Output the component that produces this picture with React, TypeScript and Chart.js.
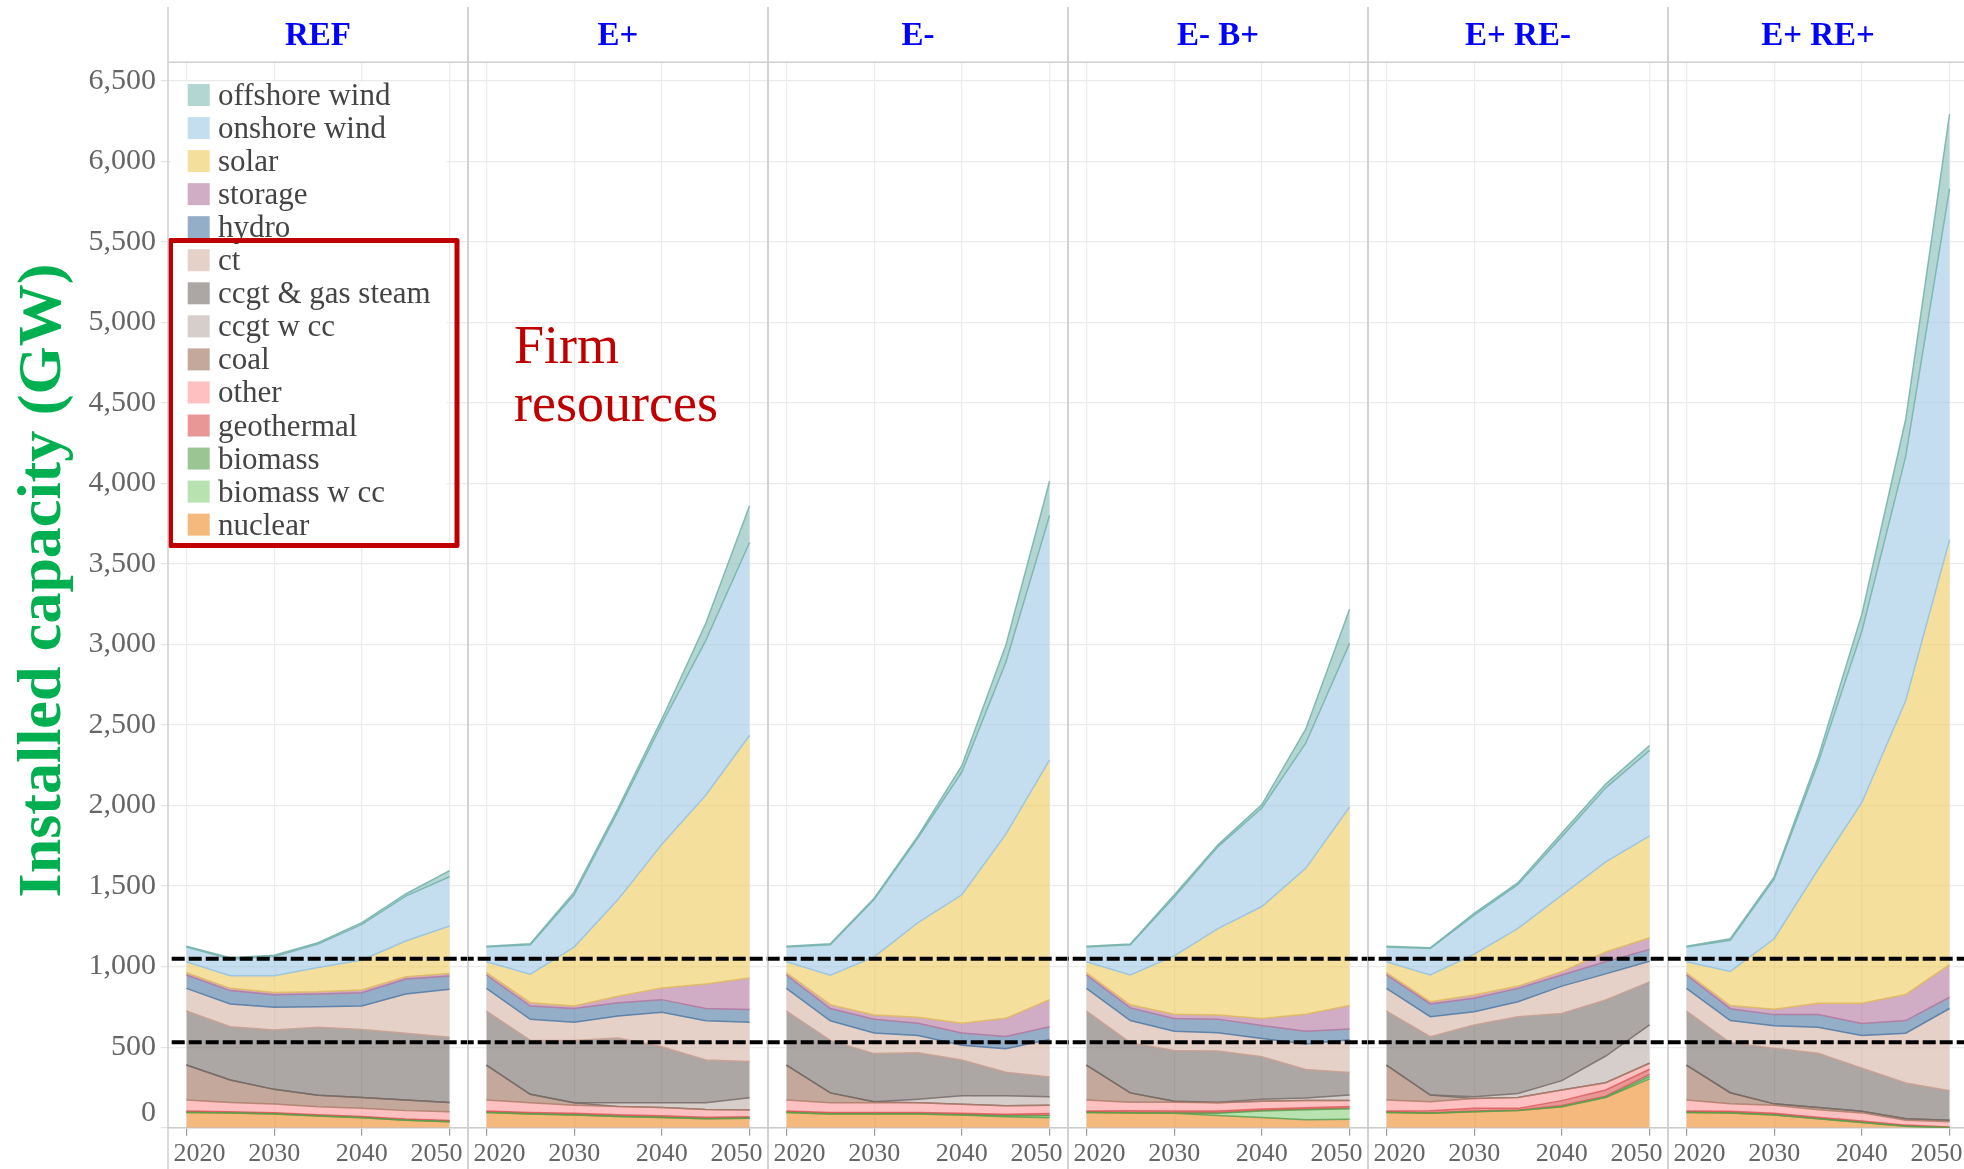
import React, { useEffect, useRef } from 'react';
import { Chart, registerables } from 'chart.js';

Chart.register(...registerables);

// ---------- data ----------
const YEARS = [2020, 2025, 2030, 2035, 2040, 2045, 2050];
const X_TICKS = [2020, 2030, 2040, 2050];
const Y_TICKS = [0, 500, 1000, 1500, 2000, 2500, 3000, 3500, 4000, 4500, 5000, 5500, 6000, 6500];
const FIRM_LINES_GW = [531, 1049];
const PANEL_TITLES = ['REF', 'E+', 'E-', 'E- B+', 'E+ RE-', 'E+ RE+'];
const NOTE_LINES = ['Firm', 'resources'];

// stacking order, bottom -> top
const SERIES = [
  'nuclear', 'biomass w cc', 'biomass', 'geothermal', 'other', 'coal', 'ccgt w cc',
  'ccgt & gas steam', 'ct', 'hydro', 'storage', 'solar', 'onshore wind', 'offshore wind',
];

// rows follow SERIES, columns follow YEARS (GW)
const REF_GW = [
  [95, 91, 85, 72, 62, 46, 37],
  [0, 0, 0, 0, 0, 0, 0],
  [4, 4, 4, 4, 4, 4, 4],
  [4, 4, 4, 4, 4, 4, 4],
  [69, 58, 54, 50, 50, 52, 54],
  [217, 139, 91, 71, 68, 66, 58],
  [0, 0, 0, 0, 0, 0, 0],
  [335, 331, 368, 422, 422, 414, 404],
  [141, 141, 141, 128, 145, 244, 298],
  [83, 83, 79, 79, 83, 93, 83],
  [14, 14, 14, 14, 17, 14, 16],
  [68, 79, 104, 151, 186, 222, 294],
  [92, 103, 118, 145, 221, 279, 306],
  [4, 8, 8, 8, 11, 13, 38],
];
const E_PLUS_GW = [
  [95, 85, 79, 70, 64, 55, 58],
  [0, 0, 0, 0, 0, 0, 0],
  [4, 4, 4, 4, 4, 4, 4],
  [4, 6, 6, 6, 6, 6, 6],
  [69, 60, 51, 51, 51, 48, 42],
  [217, 52, 15, 0, 0, 0, 0],
  [0, 0, 0, 24, 30, 42, 76],
  [335, 335, 387, 402, 347, 265, 225],
  [141, 131, 113, 137, 214, 244, 244],
  [83, 82, 85, 82, 79, 76, 79],
  [14, 21, 15, 40, 73, 152, 195],
  [68, 177, 366, 600, 892, 1172, 1507],
  [92, 183, 325, 548, 746, 960, 1197],
  [4, 6, 16, 18, 30, 106, 228],
];
const E_MINUS_GW = [
  [95, 85, 85, 85, 79, 68, 62],
  [0, 0, 0, 0, 0, 6, 12],
  [4, 4, 4, 4, 4, 4, 4],
  [4, 6, 6, 6, 6, 6, 10],
  [69, 60, 60, 60, 57, 53, 52],
  [217, 61, 6, 0, 0, 0, 0],
  [0, 0, 0, 22, 52, 61, 52],
  [335, 326, 299, 289, 222, 146, 122],
  [141, 122, 128, 106, 92, 146, 234],
  [83, 76, 85, 77, 76, 76, 79],
  [14, 24, 27, 36, 61, 113, 168],
  [68, 183, 360, 588, 797, 1142, 1489],
  [92, 189, 356, 527, 762, 1066, 1516],
  [4, 6, 9, 12, 39, 106, 213],
];
const E_MINUS_B_PLUS_GW = [
  [95, 92, 90, 76, 63, 50, 53],
  [0, 0, 0, 14, 41, 62, 64],
  [4, 4, 4, 4, 4, 4, 4],
  [4, 10, 10, 10, 8, 8, 11],
  [69, 52, 54, 51, 48, 45, 37],
  [217, 58, 6, 0, 0, 0, 0],
  [0, 0, 0, 3, 13, 16, 34],
  [335, 312, 316, 318, 264, 177, 140],
  [141, 137, 119, 113, 113, 158, 203],
  [83, 79, 79, 85, 80, 79, 66],
  [14, 19, 27, 26, 44, 106, 146],
  [68, 185, 362, 536, 695, 905, 1233],
  [92, 188, 364, 509, 612, 777, 1016],
  [4, 4, 13, 11, 21, 87, 211],
];
const E_PLUS_RE_MINUS_GW = [
  [95, 89, 99, 106, 130, 188, 303],
  [0, 0, 0, 0, 0, 3, 14],
  [4, 4, 4, 4, 8, 5, 14],
  [4, 13, 17, 10, 30, 38, 32],
  [69, 55, 62, 68, 66, 45, 37],
  [217, 42, 0, 0, 0, 0, 0],
  [0, 0, 10, 25, 58, 166, 238],
  [335, 362, 445, 476, 417, 348, 267],
  [141, 124, 83, 93, 170, 162, 128],
  [83, 79, 83, 83, 69, 75, 74],
  [14, 14, 21, 14, 21, 61, 72],
  [68, 166, 254, 358, 475, 559, 633],
  [92, 165, 242, 273, 363, 460, 530],
  [4, 4, 11, 11, 23, 23, 31],
];
const E_PLUS_RE_PLUS_GW = [
  [95, 92, 79, 55, 32, 9, 0],
  [0, 0, 0, 0, 0, 0, 0],
  [4, 4, 4, 4, 4, 3, 2],
  [4, 6, 6, 6, 6, 4, 3],
  [69, 46, 50, 46, 50, 30, 32],
  [217, 69, 9, 14, 10, 9, 9],
  [0, 0, 0, 0, 0, 0, 0],
  [335, 310, 346, 337, 268, 222, 184],
  [141, 138, 139, 162, 203, 310, 510],
  [83, 74, 69, 78, 74, 78, 70],
  [14, 19, 33, 70, 125, 162, 202],
  [68, 212, 438, 831, 1247, 1825, 2638],
  [92, 194, 370, 661, 1063, 1515, 2180],
  [4, 9, 14, 32, 106, 231, 462],
];
const PANEL_DATA = [REF_GW, E_PLUS_GW, E_MINUS_GW, E_MINUS_B_PLUS_GW, E_PLUS_RE_MINUS_GW, E_PLUS_RE_PLUS_GW];

// ---------- styles ----------
const FILL_COLORS = [
  'rgba(238,138,38,0.6)', 'rgba(137,207,123,0.6)', 'rgba(88,160,77,0.6)', 'rgba(218,80,80,0.6)',
  'rgba(253,150,150,0.6)', 'rgba(155,110,88,0.6)', 'rgba(185,173,168,0.6)', 'rgba(117,107,103,0.6)',
  'rgba(213,178,163,0.6)', 'rgba(77,120,163,0.6)', 'rgba(178,117,158,0.6)', 'rgba(238,202,90,0.6)',
  'rgba(158,200,228,0.6)', 'rgba(128,187,180,0.6)',
];
const EDGE_COLORS = [
  'rgba(88,160,77,0.85)', 'rgba(88,160,77,0.85)', 'rgba(218,80,80,0.75)', 'rgba(218,80,80,0.75)',
  'rgba(170,120,100,0.8)', 'rgba(117,107,103,0.85)', 'rgba(117,107,103,0.85)', 'rgba(200,160,145,0.9)',
  'rgba(77,120,163,0.85)', 'rgba(178,117,158,0.85)', 'rgba(225,185,95,0.9)', 'rgba(150,195,225,0.9)',
  'rgba(120,180,172,0.9)', 'rgba(120,180,172,0.9)',
];

const SERIF = '"Liberation Serif", "Times New Roman", serif';
const W = 1964;
const H = 1169;
const PANEL_LEFT0 = 168;
const PANEL_W = 300;
const MARGIN = 40;
const AREA_TOP = 62.3;
const AXIS_H = 41.3;
const Y_AXIS_W = 168;
const X_MIN = 2017.9;
const X_MAX = 2052.1;
const Y_MAX = 6614;
const DASH_START = 171.7;
const NOTE_X = 514;
const NOTE_BASELINES = [363, 421];

function makeDecor(index: number, absLeft: number) {
  const first = index === 0;
  return {
    id: 'decor' + index,
    afterDraw(chart: any) {
      const { ctx, chartArea: a, scales } = chart;
      ctx.save();
      if (first) {
        // legend (inside REF panel)
        ctx.fillStyle = '#ffffff';
        ctx.fillRect(171, 82, 446.7 - 171, 548 - 82);
        const items = chart.data.datasets.slice().reverse();
        ctx.font = `31px ${SERIF}`;
        ctx.textAlign = 'left';
        ctx.textBaseline = 'alphabetic';
        items.forEach((d: any, r: number) => {
          const cy = 95 + r * 33.05;
          ctx.fillStyle = d.backgroundColor;
          ctx.fillRect(187.7, cy - 11, 22, 22);
          ctx.fillStyle = '#444444';
          ctx.fillText(d.label, 218, cy + 10);
        });
        ctx.strokeStyle = '#c00000';
        ctx.lineWidth = 5;
        ctx.lineJoin = 'round';
        ctx.strokeRect(170.5, 240.5, 286.5, 305);
        ctx.save();
        ctx.translate(59.5, 580.6);
        ctx.rotate(-Math.PI / 2);
        ctx.font = `bold 62px ${SERIF}`;
        ctx.fillStyle = '#00b050';
        ctx.textAlign = 'center';
        ctx.fillText('Installed capacity (GW)', 0, 0);
        ctx.restore();
      }
      if (index === 1) {
        ctx.fillStyle = '#c00000';
        ctx.font = `54px ${SERIF}`;
        ctx.textAlign = 'left';
        ctx.textBaseline = 'alphabetic';
        NOTE_LINES.forEach((t, k) => ctx.fillText(t, NOTE_X - absLeft, NOTE_BASELINES[k]));
      }
      // panel frame
      ctx.strokeStyle = '#cfcfcf';
      ctx.lineWidth = 1.5;
      ctx.setLineDash([]);
      [a.left, a.right].forEach((x: number) => {
        ctx.beginPath();
        ctx.moveTo(x, 7);
        ctx.lineTo(x, chart.height);
        ctx.stroke();
      });
      ctx.beginPath();
      ctx.moveTo(a.left, a.top);
      ctx.lineTo(a.right, a.top);
      ctx.stroke();
      // strip title
      ctx.fillStyle = '#0000ff';
      ctx.font = `bold 33px ${SERIF}`;
      ctx.textAlign = 'center';
      ctx.textBaseline = 'alphabetic';
      ctx.fillText(PANEL_TITLES[index], (a.left + a.right) / 2, 44.5);
      // firm-capacity dashed lines
      const x0 = first ? DASH_START : a.left;
      ctx.strokeStyle = '#000000';
      ctx.lineWidth = 4;
      ctx.setLineDash([13, 4]);
      ctx.lineDashOffset = ((absLeft + x0 - DASH_START) % 17 + 17) % 17;
      FIRM_LINES_GW.forEach((v) => {
        const y = scales.y.getPixelForValue(v);
        ctx.beginPath();
        ctx.moveTo(x0, y);
        ctx.lineTo(a.right, y);
        ctx.stroke();
      });
      ctx.restore();
    },
  };
}

function buildConfig(index: number, absLeft: number): any {
  const first = index === 0;
  const table = PANEL_DATA[index];
  const datasets = SERIES.map((name, i) => ({
    label: name,
    data: YEARS.map((yr, j) => ({ x: yr, y: table[i][j] })),
    fill: i === 0 ? 'origin' : '-1',
    backgroundColor: FILL_COLORS[i],
    borderColor: EDGE_COLORS[i],
    borderWidth: 1.5,
    pointRadius: 0,
    pointHoverRadius: 0,
    tension: 0,
  }));
  const lastX = X_TICKS[X_TICKS.length - 1];
  return {
    type: 'line',
    data: { datasets },
    options: {
      animation: false,
      responsive: false,
      events: [],
      layout: { padding: { top: AREA_TOP, bottom: 0, left: first ? 0 : MARGIN, right: MARGIN } },
      plugins: { legend: { display: false }, tooltip: { enabled: false }, title: { display: false } },
      scales: {
        x: {
          type: 'linear',
          min: X_MIN,
          max: X_MAX,
          afterBuildTicks: (s: any) => { s.ticks = X_TICKS.map((v) => ({ value: v })); },
          afterFit: (s: any) => { s.height = AXIS_H; },
          ticks: {
            autoSkip: false,
            maxRotation: 0,
            padding: 3,
            color: '#666666',
            font: { family: SERIF, size: 26 },
            callback: (v: number) => (v === X_TICKS[0] ? '    ' + v : v === lastX ? v + '    ' : String(v)),
          },
          grid: { color: '#ebebeb', lineWidth: 1.2, drawTicks: true, tickLength: 8, tickColor: '#9a9a9a', tickWidth: 1.2 },
          border: { display: true, color: '#cccccc', width: 1.5 },
        },
        y: {
          stacked: true,
          min: 0,
          max: Y_MAX,
          afterBuildTicks: (s: any) => { s.ticks = Y_TICKS.map((v) => ({ value: v })); },
          afterFit: (s: any) => { s.width = first ? Y_AXIS_W : 0; },
          ticks: {
            display: first,
            padding: 5,
            color: '#666666',
            font: { family: SERIF, size: 30, lineHeight: 0.95 },
            callback: (v: number) => (v === 0 ? ['0', ''] : Number(v).toLocaleString('en-US')),
          },
          grid: { color: '#ebebeb', lineWidth: 1.2, drawTicks: first, tickLength: 7, tickColor: '#e4e4e4' },
          border: { display: false },
        },
      },
    },
    plugins: [makeDecor(index, absLeft)],
  };
}

function Panel({ index }: { index: number }) {
  const ref = useRef<HTMLCanvasElement>(null);
  const first = index === 0;
  const left = first ? 0 : PANEL_LEFT0 + PANEL_W * index - MARGIN;
  const width = first ? PANEL_LEFT0 + PANEL_W + MARGIN : PANEL_W + 2 * MARGIN;
  useEffect(() => {
    const chart = new Chart(ref.current as HTMLCanvasElement, buildConfig(index, left));
    return () => chart.destroy();
  }, [index, left]);
  return (
    <canvas
      ref={ref}
      width={width}
      height={H}
      style={{ position: 'absolute', left, top: 0, width, height: H }}
    />
  );
}

export default function App() {
  return (
    <div
      style={{
        position: 'fixed', left: 0, top: 0, width: W, height: H,
        overflow: 'hidden', background: '#ffffff',
      }}
    >
      {PANEL_TITLES.map((_, i) => <Panel key={i} index={i} />)}
    </div>
  );
}
